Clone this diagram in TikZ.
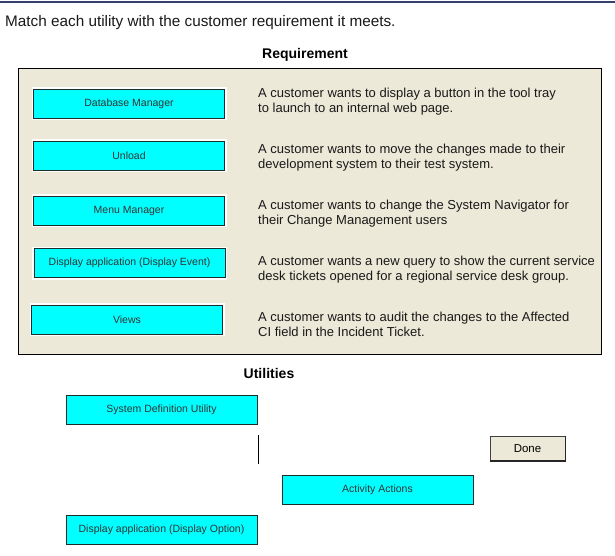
\documentclass[tikz,border=0pt]{standalone}
\usepackage{fontspec}
\setmainfont{Liberation Sans}
\usetikzlibrary{positioning}
\definecolor{panelbg}{HTML}{ECE9D8}
\definecolor{btncyan}{HTML}{00FFFF}
\definecolor{btnedge}{HTML}{1A2E2E}
\definecolor{navyline}{HTML}{34406E}
\begin{document}
\begin{tikzpicture}[x=1pt,y=-1pt,
  utilbtn/.style={draw=btnedge, line width=0.9pt, fill=btncyan, minimum width=191pt,
    minimum height=29pt, inner sep=0pt, text=black!80, font=\fontsize{10.5}{12}\selectfont},
  reqbtn/.style={utilbtn, preaction={draw=white, line width=4pt}},
  reqtext/.style={anchor=base west, inner sep=0pt, align=left, text=black!90,
    font=\fontsize{13}{15.5}\selectfont},
  heading/.style={anchor=base, inner sep=0pt, font=\fontsize{14}{16}\selectfont\bfseries}]
  \useasboundingbox[fill=white] (0,0) rectangle (615,555);
  \draw[navyline, line width=1.5pt] (0,2) -- (615,2);
  \node[anchor=base west, inner sep=0pt, font=\fontsize{15.3}{17}\selectfont, text=black!90] (title) at (5,26)
    {Match each utility with the customer requirement it meets.};
  \node[heading] (reqhead) at (305,58) {Requirement};
  % requirement panel
  \draw[fill=panelbg, draw=black, line width=0.9pt] (18,68) rectangle (601,354);
  \node[reqbtn] (dbman) at (129,103.5) {Database Manager};
  \node[reqbtn] (unload) at (129,155.5) {Unload};
  \node[reqbtn] (menuman) at (129,210.5) {Menu Manager};
  \node[reqbtn] (dispevent) at (129.5,263) {Display application (Display Event)};
  \node[reqbtn] (views) at (127,319.5) {Views};
  % base anchor sits on the second line
  \node[reqtext] (req1) at (258,112.5) {A customer wants to display a button in the tool tray\\to launch to an internal web page.};
  \node[reqtext] (req2) at (258,168.5) {A customer wants to move the changes made to their\\development system to their test system.};
  \node[reqtext] (req3) at (258,224.5) {A customer wants to change the System Navigator for\\their Change Management users};
  \node[reqtext] (req4) at (258,280.5) {A customer wants a new query to show the current service\\desk tickets opened for a regional service desk group.};
  \node[reqtext] (req5) at (258,336.5) {A customer wants to audit the changes to the Affected\\CI field in the Incident Ticket.};
  % utilities
  \node[heading] (utilhead) at (269,378) {Utilities};
  \node[utilbtn] (sysdef) at (161.5,409.5) {System Definition Utility};
  \node[utilbtn] (activity) at (377.5,490) {Activity Actions};
  \node[utilbtn] (dispoption) at (161.5,529.5) {Display application (Display Option)};
  \draw[black, line width=1pt] (258,435) -- (258,464);
  \node[draw=black!75, line width=0.8pt, fill=panelbg, minimum width=75pt, minimum height=24pt,
    inner sep=0pt, font=\fontsize{11.5}{13}\selectfont] (done) at (527.5,448.5) {Done};
  \draw[black!85, line width=1.2pt] (done.north east) -- (done.south east) -- (done.south west);
\end{tikzpicture}
\end{document}
